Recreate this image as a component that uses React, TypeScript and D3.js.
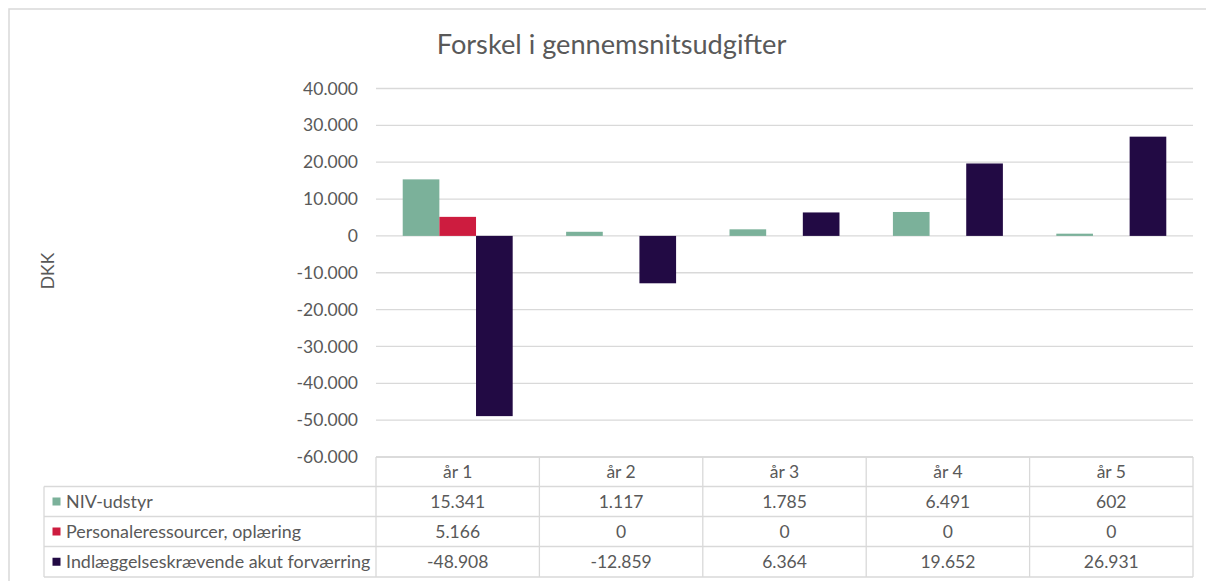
import React from "react";
import * as d3 from "d3";

const title = "Forskel i gennemsnitsudgifter";
const yAxisLabel = "DKK";
const categories = ["år 1", "år 2", "år 3", "år 4", "år 5"];
const seriesNames = [
  "NIV-udstyr",
  "Personaleressourcer, oplæring",
  "Indlæggelseskrævende akut forværring",
];
const nivValues = [15341, 1117, 1785, 6491, 602];
const personaleValues = [5166, 0, 0, 0, 0];
const indlaeggelseValues = [-48908, -12859, 6364, 19652, 26931];
const seriesColors = ["#7BB19A", "#CD1C3F", "#220A44"];
const yTicks = [40000, 30000, 20000, 10000, 0, -10000, -20000, -30000, -40000, -50000, -60000];

const seriesValues = [nivValues, personaleValues, indlaeggelseValues];

const locale = d3.formatLocale({
  decimal: ",",
  thousands: ".",
  grouping: [3],
  currency: ["", " kr"],
  minus: "-",
});
const fmt = locale.format(",d");

const W = 1206;
const H = 581;
const FONT = "Lato, 'Open Sans', sans-serif";
const TXT = "#595959";
const GRID = "#D9D9D9";
const FS = 17.5;

export default function App() {
  const plotLeft = 376;
  const plotRight = 1193;
  const plotTop = 88.5;
  const plotBottom = 457;

  const y = d3.scaleLinear().domain([-60000, 40000]).range([plotBottom, plotTop]);
  const x = d3
    .scaleBand<string>()
    .domain(categories)
    .range([plotLeft, plotRight])
    .paddingInner(0.327)
    .paddingOuter(0.1635);
  const xs = d3
    .scaleBand<number>()
    .domain(seriesNames.map((_, i) => i))
    .range([0, x.bandwidth()])
    .padding(0);

  const colX = d3.scaleBand<string>().domain(categories).range([plotLeft, plotRight]).padding(0);
  const tableLeft = 44;
  const rowTops = [457, 486.5, 516.5, 546.5, 577];
  const rowMid = (i: number) => (rowTops[i] + rowTops[i + 1]) / 2;

  return (
    <svg
      width={W}
      height={H}
      style={{ position: "absolute", left: 0, top: 0, background: "#fff" }}
      fontFamily={FONT}
    >
      <rect x={9} y={9} width={W + 20} height={H + 20} fill="#fff" stroke={GRID} strokeWidth={1.5} />

      <text x={611.5} y={54} textAnchor="middle" fontSize={27.2} fill={TXT}>
        {title}
      </text>

      <text
        transform={`translate(54,271) rotate(-90)`}
        textAnchor="middle"
        fontSize={FS}
        fill={TXT}
      >
        {yAxisLabel}
      </text>

      {yTicks.map((t) => (
        <g key={t}>
          <line x1={plotLeft} x2={plotRight} y1={y(t)} y2={y(t)} stroke={GRID} strokeWidth={1.3} />
          <text x={358} y={y(t)} dy="0.35em" textAnchor="end" fontSize={FS} fill={TXT}>
            {fmt(t)}
          </text>
        </g>
      ))}

      {categories.map((c, ci) => (
        <g key={c} transform={`translate(${x(c)},0)`}>
          {seriesValues.map((vals, si) => {
            const v = vals[ci];
            if (v === 0) return null;
            const y0 = y(0);
            const y1 = y(v);
            return (
              <rect
                key={si}
                x={xs(si)}
                width={xs.bandwidth()}
                y={Math.min(y0, y1)}
                height={Math.abs(y1 - y0)}
                fill={seriesColors[si]}
              />
            );
          })}
        </g>
      ))}

      {/* data table */}
      <g stroke={GRID} strokeWidth={1.3}>
        <line x1={plotLeft} x2={plotRight} y1={rowTops[0]} y2={rowTops[0]} />
        {rowTops.slice(1).map((r, i) => (
          <line key={i} x1={tableLeft} x2={plotRight} y1={r} y2={r} />
        ))}
        <line x1={tableLeft} x2={tableLeft} y1={rowTops[1]} y2={rowTops[4]} />
        {categories.map((c) => (
          <line key={c} x1={colX(c)} x2={colX(c)} y1={rowTops[0]} y2={rowTops[4]} />
        ))}
        <line x1={plotRight} x2={plotRight} y1={rowTops[0]} y2={rowTops[4]} />
      </g>

      {categories.map((c) => (
        <text
          key={c}
          x={(colX(c) as number) + colX.bandwidth() / 2}
          y={rowMid(0)}
          dy="0.35em"
          textAnchor="middle"
          fontSize={FS}
          fill={TXT}
        >
          {c}
        </text>
      ))}

      {seriesNames.map((name, si) => (
        <g key={name}>
          <rect x={52.5} y={rowMid(si + 1) - 4} width={8} height={8} fill={seriesColors[si]} />
          <text x={66} y={rowMid(si + 1)} dy="0.35em" fontSize={17.9} fill={TXT}>
            {name}
          </text>
          {categories.map((c, ci) => (
            <text
              key={c}
              x={(colX(c) as number) + colX.bandwidth() / 2}
              y={rowMid(si + 1)}
              dy="0.35em"
              textAnchor="middle"
              fontSize={FS}
              fill={TXT}
            >
              {fmt(seriesValues[si][ci])}
            </text>
          ))}
        </g>
      ))}
    </svg>
  );
}
